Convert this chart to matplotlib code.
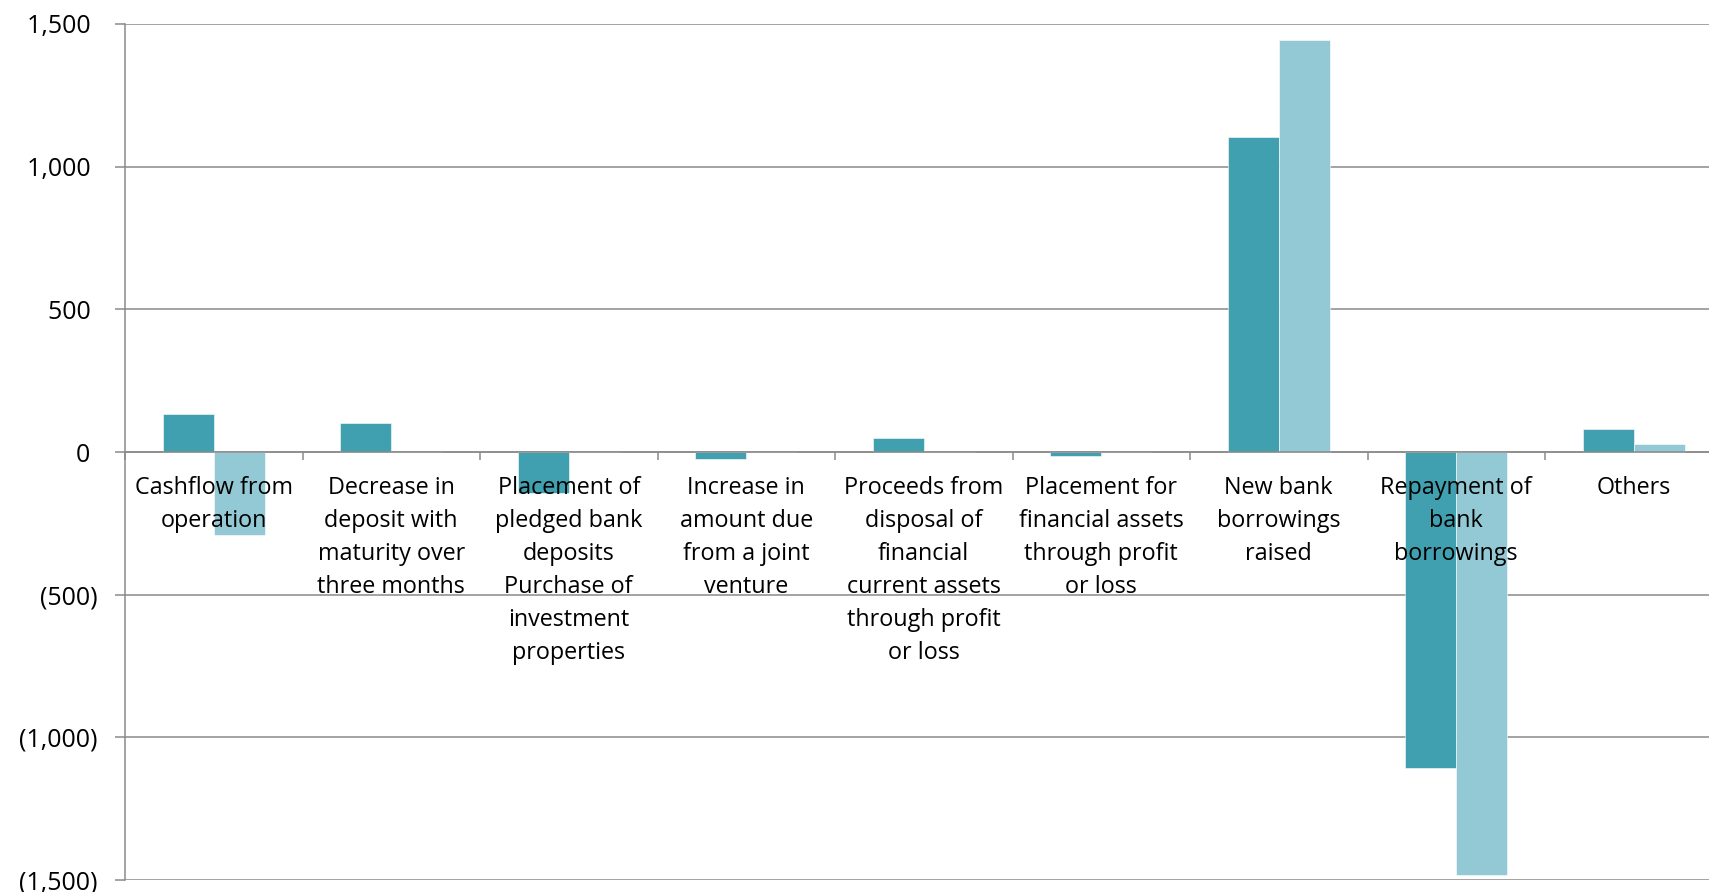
import matplotlib
matplotlib.use("Agg")

import matplotlib.pyplot as plt
import numpy as np

categories = [
    "Cashflow from\noperation",
    "Decrease in\ndeposit with\nmaturity over\nthree months",
    "Placement of\npledged bank\ndeposits\nPurchase of\ninvestment\nproperties",
    "Increase in\namount due\nfrom a joint\nventure",
    "Proceeds from\ndisposal of\nfinancial\ncurrent assets\nthrough profit\nor loss",
    "Placement for\nfinancial assets\nthrough profit\nor loss",
    "New bank\nborrowings\nraised",
    "Repayment of\nbank\nborrowings",
    "Others",
]
series_a = [134, 100, -145, -25, 50, -15, 1105, -1106, 80]
series_b = [-291, 0, 0, 0, 0, 0, 1444, -1481, 27]

y_ticks = [-1500, -1000, -500, 0, 500, 1000, 1500]
# trailing space keeps digits aligned with the bracketed negatives
y_labels = ["(1,500)", "(1,000)", "(500)", "0 ", "500 ", "1,000 ", "1,500 "]

DARK = "#41a0af"
LIGHT = "#93c9d4"
GRID = "#8a8a8a"

plt.rcParams["font.family"] = ["Open Sans", "DejaVu Sans"]

fig = plt.figure(figsize=(17.09, 8.92), dpi=100)
ax = fig.add_axes([125 / 1709, 12 / 892, 9 * 177.5 / 1709, 856 / 892])

n = len(categories)
centers = np.arange(n) + 0.5
w = 0.287

# horizontal gridlines behind the bars
for t in y_ticks:
    ax.axhline(t, color=GRID, linewidth=1.1, zorder=0.5)

ax.bar(centers - w / 2, series_a, width=w, color=DARK, edgecolor="white", linewidth=0.4, zorder=1)
ax.bar(centers + w / 2, series_b, width=w, color=LIGHT, edgecolor="white", linewidth=0.4, zorder=1)

ax.set_xlim(0, n)
ax.set_ylim(-1500, 1500)

ax.spines["top"].set_visible(False)
ax.spines["right"].set_visible(False)
ax.spines["left"].set_color(GRID)
ax.spines["left"].set_linewidth(1.1)
ax.spines["bottom"].set_position(("data", 0))
ax.spines["bottom"].set_color(GRID)
ax.spines["bottom"].set_linewidth(1.1)

ax.set_yticks(y_ticks)
ax.set_yticklabels(y_labels, fontsize=18)
ax.tick_params(axis="y", length=7, width=1.1, color=GRID, pad=13)

ax.set_xticks(np.arange(n + 1))
ax.set_xticklabels([])
ax.tick_params(axis="x", which="major", length=6, width=1.1, color=GRID, direction="out")
ax.set_xticks(centers, minor=True)
ax.set_xticklabels(categories, minor=True, fontsize=16.8, linespacing=1.50)
ax.tick_params(axis="x", which="minor", length=0, pad=17)

fig.savefig("out.png", dpi=100)
